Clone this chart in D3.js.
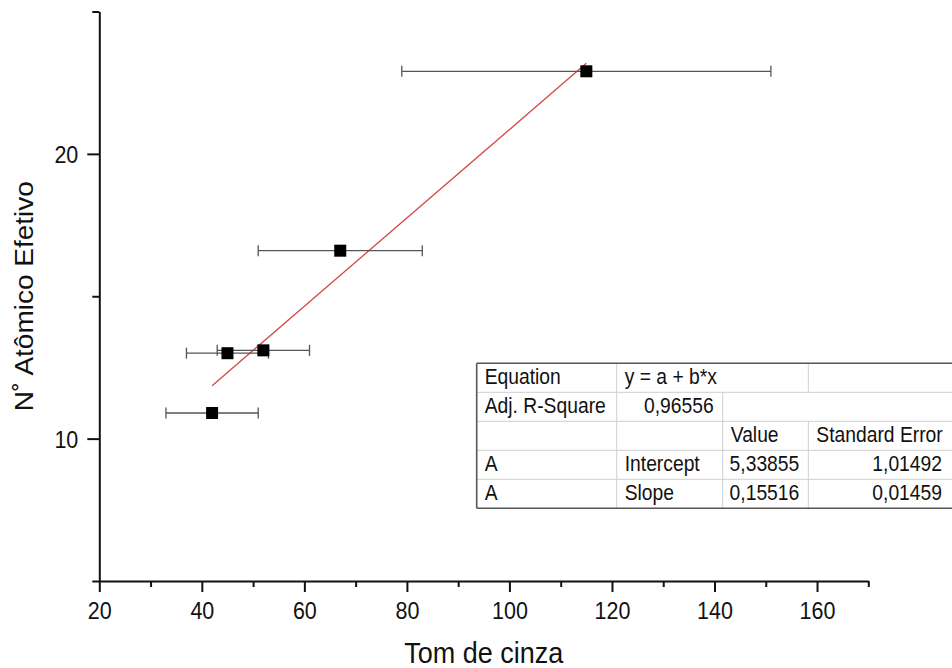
<!DOCTYPE html>
<html>
<head>
<meta charset="utf-8">
<script src="https://cdn.jsdelivr.net/npm/d3@7"></script>
<style>
  html, body { margin: 0; padding: 0; background: #fff; }
  svg { display: block; font-family: Arial, "Liberation Sans", sans-serif; }
</style>
</head>
<body>
<svg id="chart" width="952" height="668"></svg>
<script>
// ---- data ----
const xValues = [42, 45, 52, 67, 115];
const yValues = [10.9, 13.0, 13.1, 16.6, 22.9];
const xErrors = [9, 8, 9, 16, 36];
const fitIntercept = 5.33855;
const fitSlope = 0.15516;
const xMajorTicks = [20, 40, 60, 80, 100, 120, 140, 160];
const xMinorTicks = [30, 50, 70, 90, 110, 130, 150, 170];
const yMajorTicks = [10, 20];
const yMinorTicks = [5, 15, 25];
const xTitle = "Tom de cinza";
const yTitle = "N˚  Atômico Efetivo";
const tableRow1 = ["Equation", "y = a + b*x"];
const tableRow2 = ["Adj. R-Square", "0,96556"];
const tableHeader = ["Value", "Standard Error"];
const tableParamRows = [
  ["A", "Intercept", "5,33855", "1,01492"],
  ["A", "Slope", "0,15516", "0,01459"]
];

// ---- chart ----
const svg = d3.select("#chart");
const x = d3.scaleLinear().domain([20, 170]).range([99.3, 868.3]);
const y = d3.scaleLinear().domain([5, 25]).range([581, 11.5]);
const SY = 1.1; // vertical text stretch of the original export

const axisColor = "#111";
const gxMinor = svg.append("g").attr("transform", `translate(0,${y(5)})`)
  .call(d3.axisBottom(x).tickValues(xMinorTicks).tickSize(6).tickSizeOuter(0).tickFormat(""));
gxMinor.select(".domain").remove();
const gx = svg.append("g").attr("transform", `translate(0,${y(5)})`)
  .call(d3.axisBottom(x).tickValues(xMajorTicks).tickSize(11).tickSizeOuter(0));
const gyMinor = svg.append("g").attr("transform", `translate(${x(20)},0)`)
  .call(d3.axisLeft(y).tickValues(yMinorTicks).tickSize(7).tickSizeOuter(0).tickFormat(""));
gyMinor.select(".domain").remove();
const gy = svg.append("g").attr("transform", `translate(${x(20)},0)`)
  .call(d3.axisLeft(y).tickValues(yMajorTicks).tickSize(12).tickSizeOuter(0));

svg.selectAll(".domain, .tick line").attr("stroke", axisColor).attr("stroke-width", 2);
svg.selectAll(".tick text").attr("fill", "#111").style("font-size", "21.5px")
  .style("font-family", "Arial, 'Liberation Sans', sans-serif");
gx.selectAll(".tick text").attr("y", 0).attr("dy", 0)
  .attr("transform", `translate(0,38) scale(1,${SY})`);
gy.selectAll(".tick text").attr("x", 0).attr("dy", 0)
  .attr("transform", `translate(-21,8.8) scale(1,${SY})`);

// titles
svg.append("text").attr("transform", `translate(${(x(20) + x(170)) / 2},663) scale(1,${SY})`)
  .attr("text-anchor", "middle").style("font-size", "27px").attr("fill", "#111").text(xTitle);
svg.append("text").attr("transform", `translate(33,${(y(5) + y(25)) / 2}) scale(1,1.12) rotate(-90)`)
  .attr("text-anchor", "middle").style("font-size", "25px").attr("fill", "#111").text(yTitle);

// fit line
const xmin = d3.min(xValues), xmax = d3.max(xValues);
svg.append("line")
  .attr("x1", x(xmin)).attr("y1", y(fitIntercept + fitSlope * xmin))
  .attr("x2", x(xmax)).attr("y2", y(fitIntercept + fitSlope * xmax))
  .attr("stroke", "#d64545").attr("stroke-width", 1.3);

// error bars
const pts = xValues.map((v, i) => ({ x: v, y: yValues[i], e: xErrors[i] }));
const eb = svg.append("g").attr("stroke", "#555").attr("stroke-width", 1.3);
pts.forEach(p => {
  eb.append("line").attr("x1", x(p.x - p.e)).attr("x2", x(p.x + p.e))
    .attr("y1", y(p.y)).attr("y2", y(p.y));
  [p.x - p.e, p.x + p.e].forEach(c => {
    eb.append("line").attr("x1", x(c)).attr("x2", x(c))
      .attr("y1", y(p.y) - 5.5).attr("y2", y(p.y) + 5.5);
  });
});
svg.append("g").selectAll("rect").data(pts).join("rect")
  .attr("x", d => x(d.x) - 6).attr("y", d => y(d.y) - 6)
  .attr("width", 12).attr("height", 12).attr("fill", "#000");

// ---- table ----
const colX = [476.7, 616.7, 722.7, 808.3, 960];
const rowY = [363.3, 392.3, 421.3, 450.3, 479.3, 508.3];
const tg = svg.append("g");
const light = "#cfcfcf";
function hline(yy, x1, x2, c, w) { tg.append("line").attr("x1", x1).attr("x2", x2).attr("y1", yy).attr("y2", yy).attr("stroke", c).attr("stroke-width", w); }
function vline(xx, y1, y2, c, w) { tg.append("line").attr("x1", xx).attr("x2", xx).attr("y1", y1).attr("y2", y2).attr("stroke", c).attr("stroke-width", w); }
tg.append("rect").attr("x", colX[0]).attr("y", rowY[0]).attr("width", colX[4] - colX[0]).attr("height", rowY[5] - rowY[0]).attr("fill", "#fff");
for (let r = 1; r < 5; r++) hline(rowY[r], colX[0], colX[4], light, 1);
vline(colX[1], rowY[0], rowY[5], light, 1);
vline(colX[2], rowY[1], rowY[5], light, 1);
vline(colX[3], rowY[0], rowY[1], light, 1);
vline(colX[3], rowY[2], rowY[5], light, 1);
hline(rowY[0], colX[0], colX[4], "#555", 1.6);
hline(rowY[5], colX[0], colX[4], "#555", 1.6);
vline(colX[0], rowY[0], rowY[5], "#555", 1.6);

function putText(txt, xx, base, anchor) {
  return tg.append("text").attr("transform", `translate(${xx},${base}) scale(1,${SY})`)
    .attr("text-anchor", anchor).style("font-size", "19.3px").attr("fill", "#111").text(txt);
}
function cell(txt, r, c, align) {
  const base = rowY[r] + 20.5;
  if (align === "right") putText(txt, colX[c + 1] - 9, base, "end");
  else putText(txt, colX[c] + 8, base, "start");
}
cell(tableRow1[0], 0, 0); cell(tableRow1[1], 0, 1);
cell(tableRow2[0], 1, 0); cell(tableRow2[1], 1, 1, "right");
cell(tableHeader[0], 2, 2); cell(tableHeader[1], 2, 3);
tableParamRows.forEach((row, i) => {
  cell(row[0], 3 + i, 0); cell(row[1], 3 + i, 1);
  cell(row[2], 3 + i, 2, "right");
  putText(row[3], 942, rowY[3 + i] + 20.5, "end");
});
</script>
</body>
</html>
